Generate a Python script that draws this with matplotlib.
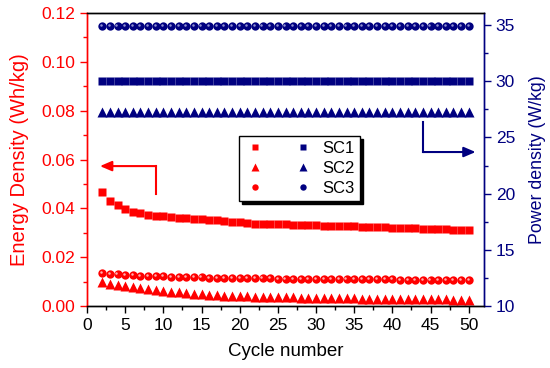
import matplotlib
matplotlib.use("Agg")
import matplotlib.pyplot as plt
from matplotlib.lines import Line2D
from matplotlib.legend_handler import HandlerTuple
from matplotlib.ticker import MultipleLocator
from matplotlib.transforms import offset_copy

plt.rcParams['font.family'] = ['Liberation Sans', 'DejaVu Sans']

cycles = list(range(2, 51))
energy_sc1 = [0.0468, 0.0429, 0.0412, 0.0399, 0.0387, 0.0379, 0.0374, 0.0370, 0.0367, 0.0364,
              0.0362, 0.0360, 0.0358, 0.0356, 0.0354, 0.0352, 0.0349, 0.0346, 0.0343, 0.0340,
              0.0337, 0.0336, 0.0335, 0.0334, 0.0334, 0.0333, 0.0332, 0.0331, 0.0330, 0.0329,
              0.0329, 0.0328, 0.0327, 0.0326, 0.0325, 0.0324, 0.0323, 0.0322, 0.0321, 0.0320,
              0.0319, 0.0318, 0.0317, 0.0316, 0.0315, 0.0314, 0.0313, 0.0312, 0.0311]
energy_sc2 = [0.0098, 0.0090, 0.0085, 0.0080, 0.0076, 0.0072, 0.0068, 0.0065, 0.0062, 0.0059,
              0.0056, 0.0054, 0.0051, 0.0049, 0.0047, 0.0045, 0.0043, 0.0041, 0.0040, 0.0039,
              0.0038, 0.0037, 0.0036, 0.0036, 0.0035, 0.0035, 0.0034, 0.0034, 0.0033, 0.0033,
              0.0032, 0.0032, 0.0031, 0.0031, 0.0030, 0.0030, 0.0030, 0.0029, 0.0029, 0.0029,
              0.0028, 0.0028, 0.0028, 0.0027, 0.0027, 0.0027, 0.0026, 0.0026, 0.0026]
energy_sc3 = [0.0135, 0.0132, 0.0130, 0.0128, 0.0126, 0.0124, 0.0123, 0.0122, 0.0121, 0.0120,
              0.0119, 0.0118, 0.0118, 0.0117, 0.0116, 0.0116, 0.0115, 0.0115, 0.0114, 0.0114,
              0.0113, 0.0113, 0.0113, 0.0112, 0.0112, 0.0112, 0.0112, 0.0111, 0.0111, 0.0111,
              0.0111, 0.0110, 0.0110, 0.0110, 0.0110, 0.0109, 0.0109, 0.0109, 0.0109, 0.0108,
              0.0108, 0.0108, 0.0108, 0.0108, 0.0107, 0.0107, 0.0107, 0.0107, 0.0107]
power_sc1 = [30.0] * 49
power_sc2 = [27.3] * 49
power_sc3 = [34.9] * 49
labels = ["SC1", "SC2", "SC3"]

RED = '#ff0000'
BLUE = '#000080'

fig = plt.figure(figsize=(5.5, 3.68), dpi=100)
ax = fig.add_axes([87/550, 1-306/368, (484-87)/550, (306-13)/368])
ax2 = ax.twinx()

ms_sq, ms_tr, ms_ci = 5.2, 6.5, 6.0
ax.plot(cycles, energy_sc1, 's', color=RED, ms=ms_sq, mec='none')
ax.plot(cycles, energy_sc2, '^', color=RED, ms=ms_tr, mec='none')
ax.plot(cycles, energy_sc3, 'o', color=RED, ms=ms_ci, mec='none')
tr = offset_copy(ax.transData, fig=fig, x=-0.8, y=0.8, units='points')
ax.plot(cycles, energy_sc3, 'o', color='#ffb0b0', ms=1.8, mec='none', transform=tr)

ax2.plot(cycles, power_sc1, 's', color=BLUE, ms=ms_sq, mec='none')
ax2.plot(cycles, power_sc2, '^', color=BLUE, ms=ms_tr, mec='none')
ax2.plot(cycles, power_sc3, 'o', color=BLUE, ms=ms_ci, mec='none')
tr2 = offset_copy(ax2.transData, fig=fig, x=-0.8, y=0.8, units='points')
ax2.plot(cycles, power_sc3, 'o', color='#9090d0', ms=1.8, mec='none', transform=tr2)

ax.set_xlim(0, 52)
ax.set_ylim(0, 0.12)
ax2.set_ylim(10, 36.07)

ax.xaxis.set_major_locator(MultipleLocator(5))
ax.xaxis.set_minor_locator(MultipleLocator(2.5))
ax.yaxis.set_major_locator(MultipleLocator(0.02))
ax.yaxis.set_minor_locator(MultipleLocator(0.01))
ax2.yaxis.set_major_locator(MultipleLocator(5))
ax2.yaxis.set_minor_locator(MultipleLocator(2.5))
ax.yaxis.set_major_formatter(matplotlib.ticker.FormatStrFormatter('%.2f'))

fs = 12.5
ax.tick_params(axis='x', which='major', direction='out', length=5, width=1, labelsize=fs, colors='black', top=False)
ax.tick_params(axis='x', which='minor', direction='out', length=3, width=1, top=False)
ax.tick_params(axis='y', which='major', direction='out', length=5, width=1, labelsize=fs, colors=RED)
ax.tick_params(axis='y', which='minor', direction='out', length=3, width=1, colors=RED)
ax2.tick_params(axis='y', which='major', direction='out', length=5, width=1, labelsize=fs, colors=BLUE)
ax2.tick_params(axis='y', which='minor', direction='out', length=3, width=1, colors=BLUE)

for a in (ax, ax2):
    a.spines['left'].set_color(RED)
    a.spines['right'].set_color(BLUE)
    a.spines['top'].set_color('black')
    a.spines['bottom'].set_color('black')
    for s in a.spines.values():
        s.set_linewidth(1)

ax.set_xlabel("Cycle number", fontsize=13.5, labelpad=7)
ax.set_ylabel("Energy Density (Wh/kg)", fontsize=14.5, color=RED, labelpad=9)
ax2.set_ylabel("Power density (W/kg)", fontsize=12.8, color=BLUE, labelpad=10)

# arrows
ax.plot([9.05, 9.05], [0.0459, 0.0573], color=RED, lw=1.5)
ax.annotate("", xy=(1.7, 0.0573), xytext=(9.05, 0.0573),
            arrowprops=dict(arrowstyle='-|>,head_length=0.7,head_width=0.3', color=RED, lw=1.5,
                            shrinkA=0, shrinkB=0))
ax2.plot([44, 44], [26.4, 23.7], color=BLUE, lw=1.5)
ax2.annotate("", xy=(50.9, 23.7), xytext=(44, 23.7),
             arrowprops=dict(arrowstyle='-|>,head_length=0.7,head_width=0.3', color=BLUE, lw=1.5,
                             shrinkA=0, shrinkB=0))

# legend
mk = ['s', '^', 'o']
lms = [4.2, 5.2, 4.6]
handles = []
for m, s in zip(mk, lms):
    hr = Line2D([], [], marker=m, color=RED, ls='none', ms=s, mec='none')
    hb = Line2D([], [], marker=m, color=BLUE, ls='none', ms=s, mec='none')
    handles.append((hr, hb))
leg = ax2.legend(handles, labels, handler_map={tuple: HandlerTuple(ndivide=None, pad=1.6)},
                 loc='upper left', bbox_to_anchor=(0.383, 0.58), fontsize=12,
                 handlelength=4.2, handletextpad=0.5, borderpad=0.3, labelspacing=0.3,
                 borderaxespad=0, frameon=True, fancybox=False,
                 shadow={'color': 'black', 'alpha': 1}, edgecolor='black')
leg.get_frame().set_linewidth(1)

fig.savefig("out.png", dpi=100)
